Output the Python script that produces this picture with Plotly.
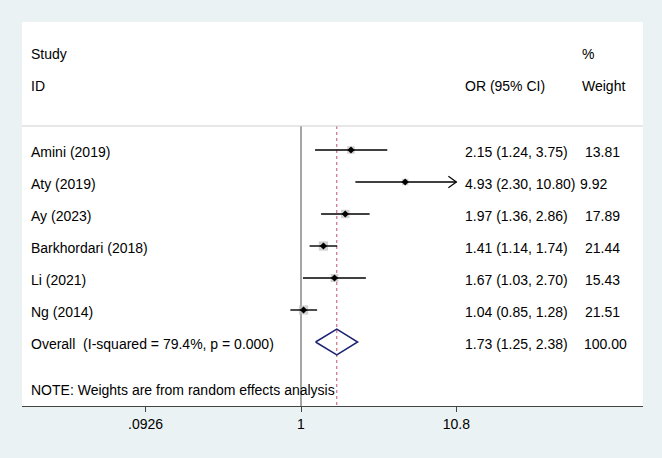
import plotly.graph_objects as go
import math

# ---------------- data ----------------
studies = ["Amini (2019)", "Aty (2019)", "Ay (2023)", "Barkhordari (2018)", "Li (2021)", "Ng (2014)"]
odds_ratio = [2.15, 4.93, 1.97, 1.41, 1.67, 1.04]
ci_low = [1.24, 2.30, 1.36, 1.14, 1.03, 0.85]
ci_high = [3.75, 10.80, 2.86, 1.74, 2.70, 1.28]
weights = [13.81, 9.92, 17.89, 21.44, 15.43, 21.51]
overall_label = "Overall\u00a0 (I-squared = 79.4%, p = 0.000)"
overall_or = 1.73
overall_low = 1.25
overall_high = 2.38
overall_weight = 100.00
tick_vals = [0.0926, 1, 10.8]
tick_text = [".0926", "1", "10.8"]
axis_max = 10.8

# ---------------- layout constants ----------------
W, H = 662, 458
ML, MR, MT, MB = 22, 19, 22, 52
PW = W - ML - MR
FONT = "Liberation Sans, Arial, Helvetica, sans-serif"
FS = 14
BG = "#eaf2f3"

rows = list(range(1, len(studies) + 1))
overall_row = len(studies) + 1

def px_to_paper(px):
    return (px - ML) / PW

fig = go.Figure()

# vertical line at OR = 1
fig.add_trace(go.Scatter(x=[1, 1], y=[0.25, 9], mode="lines",
                         line=dict(color="#6a6a6a", width=1.2), hoverinfo="skip", showlegend=False))
# dashed overall line
fig.add_trace(go.Scatter(x=[overall_or, overall_or], y=[0.25, 9], mode="lines",
                         line=dict(color="#c4526c", width=1, dash="3px,3px"), hoverinfo="skip", showlegend=False))

# weight squares (drawn beneath the CI lines)
fig.add_trace(go.Scatter(x=odds_ratio, y=rows, mode="markers",
                         marker=dict(symbol="square", color="#bdbdbd",
                                     size=[2.0 * math.sqrt(w) for w in weights], line=dict(width=0)),
                         hoverinfo="skip", showlegend=False))

# CI lines
for r, lo, hi in zip(rows, ci_low, ci_high):
    hi_draw = min(hi, axis_max)
    fig.add_trace(go.Scatter(x=[lo, hi_draw], y=[r, r], mode="lines",
                             line=dict(color="black", width=1.4), hoverinfo="skip", showlegend=False))
    if hi >= axis_max:
        # open arrow head at the clipped end
        back = hi_draw * math.exp(-8 / 65.3)
        fig.add_trace(go.Scatter(x=[back, hi_draw, back], y=[r - 0.18, r, r + 0.18], mode="lines",
                                 line=dict(color="black", width=1.2), hoverinfo="skip", showlegend=False))

# point estimates
fig.add_trace(go.Scatter(x=odds_ratio, y=rows, mode="markers",
                         marker=dict(symbol="diamond", color="black", size=5.5),
                         hoverinfo="skip", showlegend=False))

# overall diamond
fig.add_trace(go.Scatter(x=[overall_low, overall_or, overall_high, overall_or, overall_low],
                         y=[overall_row, overall_row - 0.4, overall_row, overall_row + 0.4, overall_row],
                         mode="lines", line=dict(color="#1c2473", width=1.5),
                         hoverinfo="skip", showlegend=False))

# separator line
fig.add_shape(type="line", xref="paper", yref="y", x0=0, x1=1, y0=0.25, y1=0.25,
              line=dict(color="#cfcfcf", width=1))

ann = []
def txt(x_px, y, s, anchor="left"):
    ann.append(dict(x=px_to_paper(x_px), xref="paper", y=y, yref="y", text=s, showarrow=False,
                    xanchor=anchor, yanchor="middle", font=dict(family=FONT, size=FS, color="black")))

# headers
txt(29, -2, "Study")
txt(29, -1, "ID")
txt(463, -1, "OR (95% CI)")
txt(580, -2, "%")
txt(580, -1, "Weight")

for r, s, o, lo, hi, w in zip(rows, studies, odds_ratio, ci_low, ci_high, weights):
    txt(29, r + 0.05, s)
    ci_s = f"{o:.2f} ({lo:.2f}, {hi:.2f})"
    txt(463, r + 0.05, ci_s)
    txt(578 if len(ci_s) > 17 else 583, r + 0.05, f"{w:.2f}")

txt(29, overall_row + 0.05, overall_label)
txt(463, overall_row + 0.05, f"{overall_or:.2f} ({overall_low:.2f}, {overall_high:.2f})")
txt(582, overall_row + 0.05, f"{overall_weight:.2f}")
txt(29, 8.5, "NOTE: Weights are from random effects analysis")

lo_px, hi_px = 22, 643
x1_px = 301
ppl = 65.3 * math.log(10)
xr = [-(x1_px - lo_px) / ppl, (hi_px - x1_px) / ppl]

fig.update_layout(
    width=W, height=H,
    margin=dict(l=ML, r=MR, t=MT, b=MB, pad=0),
    paper_bgcolor=BG, plot_bgcolor="white",
    annotations=ann,
    xaxis=dict(type="log", range=xr, tickvals=tick_vals, ticktext=tick_text,
               showgrid=False, zeroline=False, showline=True, linecolor="#444444", linewidth=1,
               ticks="outside", ticklen=5, tickcolor="#444444", tickwidth=1,
               tickfont=dict(family=FONT, size=FS, color="black"), fixedrange=True),
    yaxis=dict(range=[9, -3], visible=False, showgrid=False, zeroline=False, fixedrange=True),
    showlegend=False,
)

fig.write_html("out.html")
